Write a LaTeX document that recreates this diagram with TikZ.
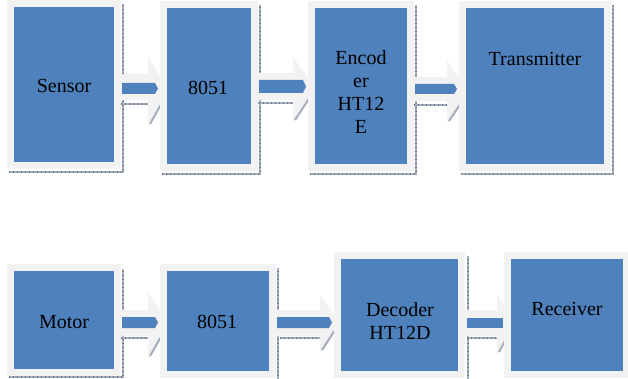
\documentclass[tikz,border=0pt]{standalone}
\usepackage{fontspec}
\setmainfont{Liberation Serif}
\newfontfamily\lblfont{Liberation Serif}
\definecolor{boxblue}{HTML}{4F81BD}
\definecolor{framegray}{HTML}{F2F2F2}
\definecolor{shadowcol}{HTML}{A3ADBD}
\definecolor{tickcol}{HTML}{6A7589}
\begin{document}
\begin{tikzpicture}[x=1pt,y=-1pt,
 box/.style={draw=framegray, fill=boxblue, line width=7pt, inner sep=0pt},
 lbl/.style={font=\lblfont\fontsize{20}{23}\selectfont, text=black, align=center, inner sep=0pt},
 shadowline/.style={draw=shadowcol, line width=2.8pt, postaction={draw=tickcol, line width=2.8pt, dash pattern=on 0.5pt off 3.5pt}},
 diagshadow/.style={draw=shadowcol, line width=2pt},
 lightarrow/.style={fill=framegray, draw=none},
 bluebar/.style={fill=boxblue, draw=none}]
\useasboundingbox (0,0) rectangle (628,379);

% ---------- shadows (top row)
\draw[shadowline] (9,172) -- (123,172) -- (123,4);
\draw[shadowline] (162,174) -- (260,174) -- (260,5);
\draw[shadowline] (310,174) -- (416,174) -- (416,5);
\draw[shadowline] (461,174) -- (613,174) -- (613,5);
% ---------- shadows (bottom row)
\draw[shadowline] (9,377) -- (123,377) -- (123,269);
\draw[shadowline] (278,379) -- (278,268);
\draw[shadowline] (468,379) -- (468,256);

% ---------- light block arrows (top row)
\fill[lightarrow] (118,74) -- (148,74) -- (148,57) -- (170,91) -- (148,125) -- (148,100) -- (118,100) -- cycle;
\draw[shadowline] (117,104) -- (148,104);
\draw[diagshadow] (150,124) -- (168,92);
\fill[lightarrow] (256,73) -- (293,73) -- (293,57) -- (316,89) -- (293,122) -- (293,100) -- (256,100) -- cycle;
\draw[shadowline] (255,103) -- (293,103);
\draw[diagshadow] (295,120) -- (314,91);
\fill[lightarrow] (412,77) -- (447,77) -- (447,60) -- (468,92) -- (447,123) -- (447,101) -- (412,101) -- cycle;
\draw[shadowline] (410,105) -- (447,105);
\draw[diagshadow] (449,121) -- (467,94);

% ---------- light block arrows (bottom row)
\fill[lightarrow] (118,310) -- (148,310) -- (148,292) -- (169,325) -- (148,358) -- (148,336) -- (118,336) -- cycle;
\draw[shadowline] (117,338) -- (148,338);
\draw[diagshadow] (150,356) -- (166,328);
\fill[lightarrow] (275,310) -- (320,310) -- (320,295) -- (340,323) -- (320,353) -- (320,336) -- (275,336) -- cycle;
\draw[shadowline] (280,338) -- (320,338);
\draw[diagshadow] (322,350) -- (337,327);
\fill[lightarrow] (465,310) -- (497,310) -- (497,293) -- (515,323) -- (497,355) -- (497,336) -- (465,336) -- cycle;
\draw[shadowline] (467,338) -- (497,338);
\draw[diagshadow] (499,352) -- (512,328);

% ---------- boxes (top row)
\node[box, minimum width=107pt, minimum height=162pt] (sensor) at (64,84.5) {};
\node[box, minimum width=91pt, minimum height=163pt] (mcuA) at (209,86) {};
\node[box, minimum width=99pt, minimum height=163pt] (enc) at (361,86) {};
\node[box, minimum width=145pt, minimum height=163pt] (tx) at (535,86) {};
% ---------- boxes (bottom row)
\node[box, minimum width=107pt, minimum height=105pt] (motor) at (64,320) {};
\node[box, minimum width=109pt, minimum height=107pt] (mcuB) at (218,321) {};
\node[box, minimum width=124pt, minimum height=119pt] (dec) at (399.5,315) {};
\node[box, minimum width=119pt, minimum height=119pt] (rx) at (567,315) {};

% ---------- blue bars
\fill[bluebar] (122,83) -- (155,83) -- (158,88.5) -- (155,94) -- (122,94) -- cycle;
\fill[bluebar] (259,80) -- (303,80) -- (306,86.5) -- (303,93) -- (259,93) -- cycle;
\fill[bluebar] (415,84) -- (454,84) -- (457,89) -- (454,94) -- (415,94) -- cycle;
\fill[bluebar] (122,317) -- (155,317) -- (158,322.5) -- (155,328) -- (122,328) -- cycle;
\fill[bluebar] (277,317) -- (329,317) -- (332,322.5) -- (329,328) -- (277,328) -- cycle;
\fill[bluebar] (467,318) -- (503,318) -- (503,328) -- (467,328) -- cycle;

% ---------- labels
\node[lbl] (sensorT) at (64,86) {Sensor};
\node[lbl] (mcuAT) at (208,88) {8051};
\node[lbl] (encT) at (361,92.5) {Encod\\er\\HT12\\E};
\node[lbl] (txT) at (535,59) {Transmitter};
\node[lbl] (motorT) at (64,322) {Motor};
\node[lbl] (mcuBT) at (217,322) {8051};
\node[lbl] (decT) at (400,321) {Decoder\\HT12D};
\node[lbl] (rxT) at (567,309) {Receiver};
\end{tikzpicture}
\end{document}
